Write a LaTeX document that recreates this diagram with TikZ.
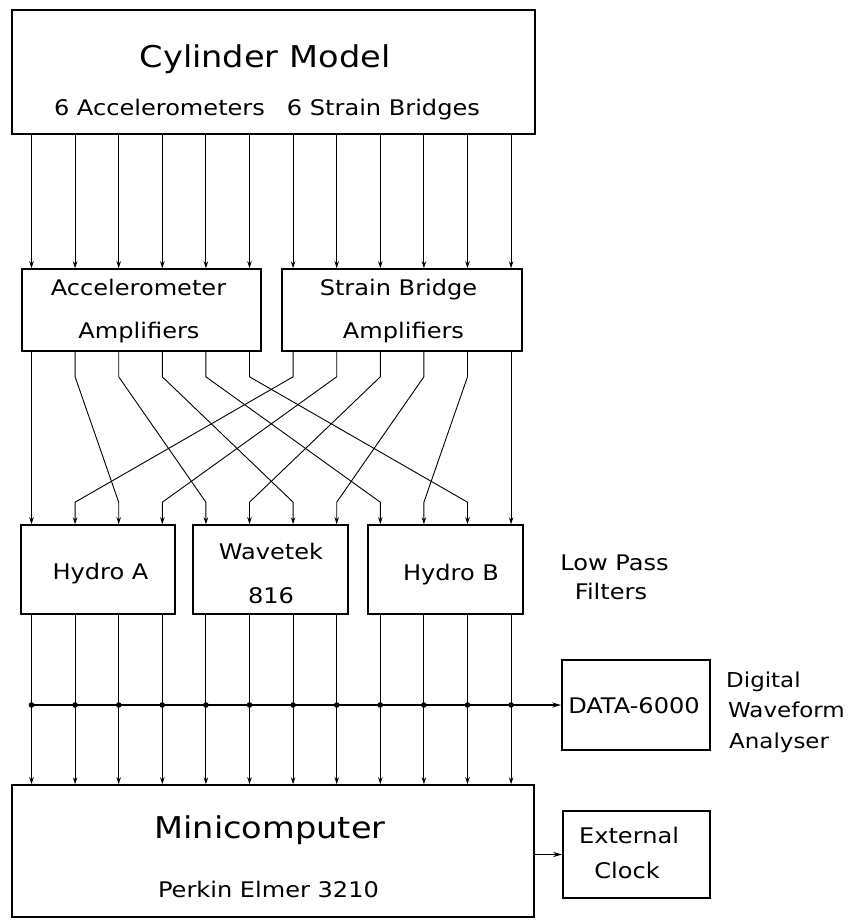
\documentclass[tikz,border=0pt]{standalone}
\usepackage{fontspec}
\setmainfont{DejaVu Sans}[FakeStretch=1.12]
\usetikzlibrary{arrows.meta,calc}
\begin{document}
\begin{tikzpicture}[x=1pt,y=-1pt,
  box/.style={draw,line width=1.6pt,inner sep=0pt,rectangle},
  txt/.style={inner sep=0pt,anchor=base,font=\fontsize{21.5}{24}\selectfont},
  bigtxt/.style={inner sep=0pt,anchor=base,font=\fontsize{30}{34}\selectfont},
  smalltxt/.style={inner sep=0pt,anchor=base west,font=\fontsize{20.5}{24}\selectfont},
  sig/.style={line width=0.9pt,-{Stealth[length=7pt,width=4.5pt]}},
  busline/.style={line width=1.8pt,-{Stealth[length=9pt,width=5pt]}}]
\useasboundingbox (0,0) rectangle (857,920);

% columns
\foreach \i in {0,...,11} \coordinate (c\i) at ({31.5+43.6*\i},0);

% boxes
\node[box,minimum width=523pt,minimum height=124pt] (cyl) at (273.5,72) {};
\node[box,minimum width=239pt,minimum height=82pt] (acc) at (141.5,310) {};
\node[box,minimum width=240pt,minimum height=82pt] (sb) at (402,310) {};
\node[box,minimum width=154pt,minimum height=89pt] (hA) at (98,569.5) {};
\node[box,minimum width=155pt,minimum height=89pt] (wav) at (270.5,569.5) {};
\node[box,minimum width=155pt,minimum height=89pt] (hB) at (445.5,569.5) {};
\node[box,minimum width=148pt,minimum height=90pt] (data) at (636,705) {};
\node[box,minimum width=522pt,minimum height=132pt] (mini) at (273,851) {};
\node[box,minimum width=147pt,minimum height=87pt] (clk) at (636.5,854.5) {};

% texts
\node[bigtxt] (t1) at (265,68) {Cylinder Model};
\node[txt] (t2) at (267,115.5) {6 Accelerometers\hspace{22pt}6 Strain Bridges};
\node[txt] (t3) at (138.5,295) {Accelerometer};
\node[txt] (t4) at (139,338) {Amplifiers};
\node[txt] (t5) at (398.5,295) {Strain Bridge};
\node[txt] (t6) at (403.5,338) {Amplifiers};
\node[txt] (t7) at (100.5,579) {Hydro A};
\node[txt] (t8) at (271,559) {Wavetek};
\node[txt] (t9) at (271,603) {816};
\node[txt] (t10) at (451,580) {Hydro B};
\node[txt] (t11) at (614.5,570) {Low Pass};
\node[txt] (t12) at (611,599) {Filters};
\node[txt] (t13) at (634,713) {DATA-6000};
\node[smalltxt] (t14) at (726,687) {Digital};
\node[smalltxt] (t15) at (728,717) {Waveform};
\node[smalltxt] (t16) at (729,748) {Analyser};
\node[bigtxt] (t17) at (270,838.5) {Minicomputer};
\node[txt] (t18) at (268.5,897) {Perkin Elmer 3210};
\node[txt] (t19) at (629,843) {External};
\node[txt] (t20) at (627,878) {Clock};

% model to amplifiers
\foreach \i in {0,...,5} \draw[sig] (cyl.south -| c\i) -- (acc.north -| c\i);
\foreach \i in {6,...,11} \draw[sig] (cyl.south -| c\i) -- (sb.north -| c\i);

% amplifiers to filters
\draw[sig] (acc.south -| c0) -- (hA.north -| c0);
\draw[sig] (sb.south -| c11) -- (hB.north -| c11);
\foreach \xs/\xb/\xd/\xe in {1/acc/2/hA, 2/acc/4/wav, 3/acc/6/wav, 4/acc/8/hB, 5/acc/10/hB,
    6/sb/1/hA, 7/sb/3/hA, 8/sb/5/wav, 9/sb/7/wav, 10/sb/9/hB}
  \draw[sig] (\xb.south -| c\xs) -- ($(\xb.south -| c\xs)+(0,25)$)
     -- ($(\xe.north -| c\xd)+(0,-22)$) -- (\xe.north -| c\xd);

% filters to minicomputer
\foreach \i in {0,...,3} \draw[sig] (hA.south -| c\i) -- (mini.north -| c\i);
\foreach \i in {4,...,7} \draw[sig] (wav.south -| c\i) -- (mini.north -| c\i);
\foreach \i in {8,...,11} \draw[sig] (hB.south -| c\i) -- (mini.north -| c\i);

% bus to DATA-6000
\coordinate (bus) at (31.5,705);
\draw[busline] (bus) -- (data.west);
\foreach \i in {0,...,11} \fill (bus -| c\i) circle (2.8pt);

% minicomputer to clock
\draw[busline] (mini.east |- clk.west) -- (clk.west);
\end{tikzpicture}
\end{document}
